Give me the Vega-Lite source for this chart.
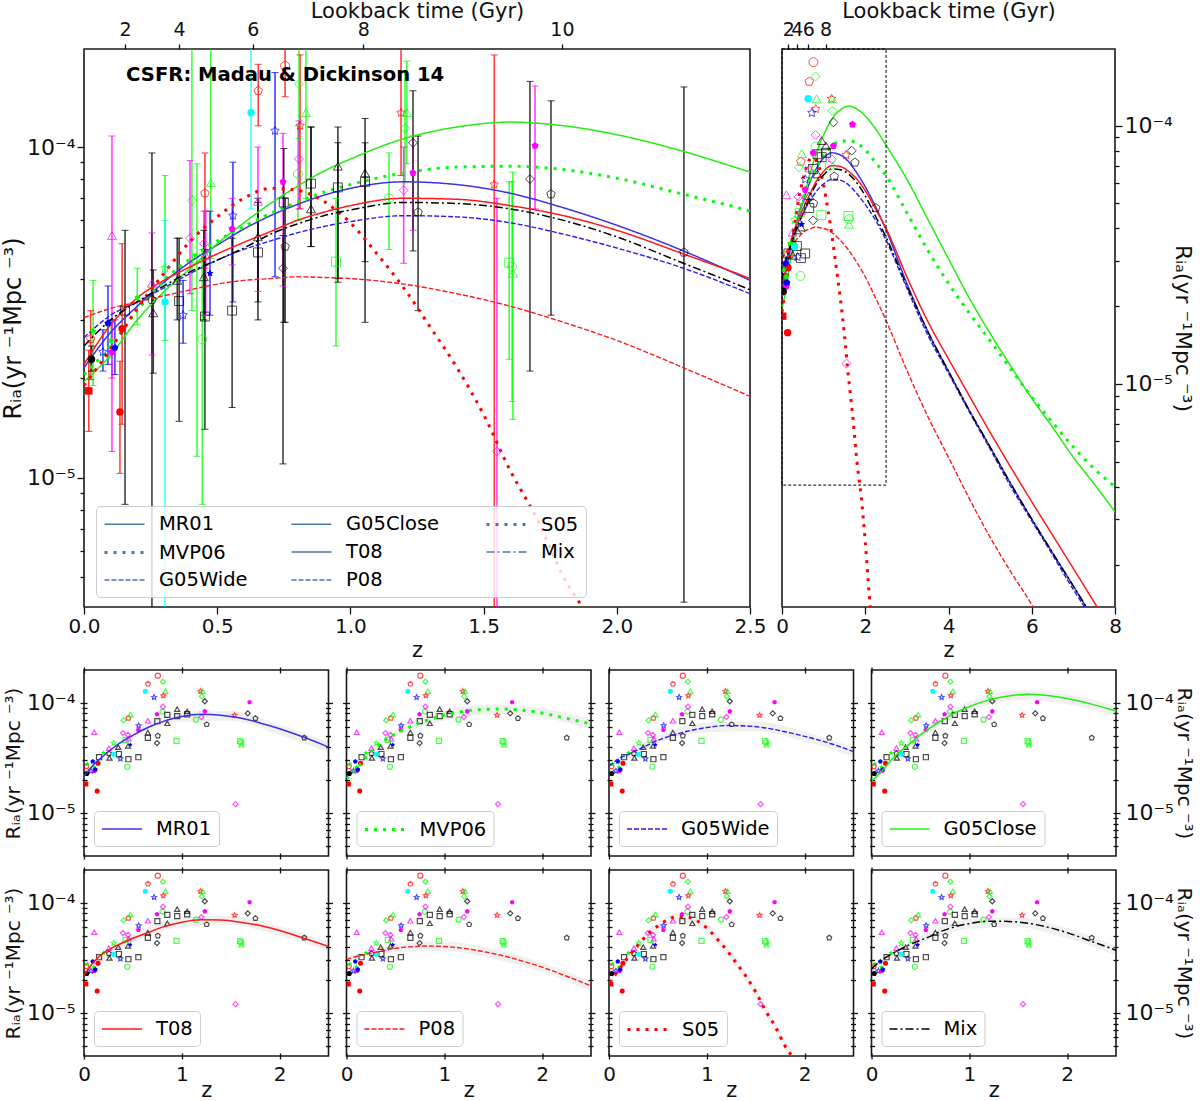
{
"$schema":"https://vega.github.io/schema/vega-lite/v6.json",
"padding":{"left":0,"top":-1,"right":6,"bottom":0},
"config":{"font":"DejaVu Sans","view":{"stroke":"#1a1a1a","strokeWidth":1.6},"point":{"size":26,"strokeWidth":1.2},"axis":{"grid":false,"domain":false,"tickWidth":1.3,"tickColor":"#111","labelFontSize":20,"titleFontSize":21,"titleFontWeight":"normal","labelOverlap":false,"labelFlush":false,"labelBound":false,"labelColor":"#111","titleColor":"#111"},"legend":{"title":null,"orient":"none","padding":7,"labelFontSize":19.5,"labelOffset":23,"symbolType":"M-2,0L2,0","symbolSize":400,"symbolOffset":10,"rowPadding":7,"fillColor":"rgba(255,255,255,0.8)","strokeColor":"#cccccc","cornerRadius":4,"zindex":1,"labelLimit":200}},
"resolve":{"scale":{"color":"independent"},"legend":{"color":"independent"}},
"datasets":{
"obs":[
{"group":"R","marker":"circle","solid":false,"z":0.755,"r":17.6e-5,"lo":14.2e-5,"hi":30e-5},
{"group":"R","marker":"pentagon","solid":false,"z":0.654,"r":14.8e-5,"lo":11.6e-5,"hi":17.8e-5},
{"group":"R","marker":"star","solid":false,"z":0.811,"r":11.6e-5,"lo":6.5e-5,"hi":19e-5},
{"group":"R","marker":"pentagon","solid":false,"z":0.454,"r":7.25e-5,"lo":4.3e-5,"hi":9.6e-5},
{"group":"R","marker":"pentagon","solid":false,"z":0.025,"r":2.63e-5,"lo":1.98e-5,"hi":3.2e-5},
{"group":"R","marker":"star","solid":false,"z":1.19,"r":12.7e-5,"lo":8.2e-5,"hi":30e-5},
{"group":"R","marker":"star","solid":false,"z":1.54,"r":7.7e-5,"lo":0.3e-5,"hi":19e-5},
{"group":"R","marker":"square","solid":true,"z":0.018,"r":1.83e-5,"lo":1.38e-5,"hi":2.43e-5},
{"group":"R","marker":"circle","solid":true,"z":0.135,"r":1.58e-5,"lo":1.03e-5,"hi":2.25e-5},
{"group":"R","marker":"circle","solid":true,"z":0.143,"r":2.82e-5,"lo":1.45e-5,"hi":5.1e-5},
{"group":"G","marker":"diamond","solid":false,"z":0.807,"r":15.5e-5,"lo":10.6e-5,"hi":30e-5},
{"group":"G","marker":"triangle","solid":false,"z":0.833,"r":12.7e-5,"lo":7e-5,"hi":30e-5},
{"group":"G","marker":"circle","solid":false,"z":0.803,"r":8.3e-5,"lo":6e-5,"hi":11.6e-5},
{"group":"G","marker":"triangle","solid":false,"z":0.476,"r":7.8e-5,"lo":4.6e-5,"hi":30e-5},
{"group":"G","marker":"diamond","solid":false,"z":0.405,"r":6.9e-5,"lo":3.2e-5,"hi":30e-5},
{"group":"G","marker":"square","solid":false,"z":0.424,"r":4.6e-5,"lo":1.16e-5,"hi":8.9e-5},
{"group":"G","marker":"circle","solid":false,"z":0.444,"r":2.62e-5,"lo":0.83e-5,"hi":4.9e-5},
{"group":"G","marker":"star","solid":false,"z":0.304,"r":4.3e-5,"lo":2.6e-5,"hi":8.2e-5},
{"group":"G","marker":"star","solid":true,"z":0.2,"r":3.5e-5,"lo":2.9e-5,"hi":4.3e-5},
{"group":"G","marker":"star","solid":true,"z":0.034,"r":2.77e-5,"lo":1.9e-5,"hi":3.95e-5},
{"group":"G","marker":"star","solid":true,"z":0.102,"r":2.6e-5,"lo":2.3e-5,"hi":3e-5},
{"group":"G","marker":"square","solid":false,"z":0.946,"r":4.5e-5,"lo":2.5e-5,"hi":7e-5},
{"group":"G","marker":"circle","solid":false,"z":1.145,"r":7e-5,"lo":4.9e-5,"hi":9.6e-5},
{"group":"G","marker":"triangle","solid":false,"z":1.212,"r":12.7e-5,"lo":8.9e-5,"hi":18.2e-5},
{"group":"G","marker":"diamond","solid":false,"z":1.205,"r":11.4e-5,"lo":7.8e-5,"hi":17e-5},
{"group":"G","marker":"square","solid":false,"z":1.596,"r":4.47e-5,"lo":2.28e-5,"hi":7.85e-5},
{"group":"G","marker":"circle","solid":false,"z":1.607,"r":4.35e-5,"lo":1.7e-5,"hi":7.85e-5},
{"group":"G","marker":"triangle","solid":false,"z":1.61,"r":4.15e-5,"lo":1.5e-5,"hi":8.4e-5},
{"group":"M","marker":"triangle","solid":false,"z":0.105,"r":5.4e-5,"lo":1.2e-5,"hi":10.8e-5},
{"group":"M","marker":"triangle","solid":false,"z":0.255,"r":3.87e-5,"lo":2.35e-5,"hi":5.5e-5},
{"group":"M","marker":"diamond","solid":false,"z":0.398,"r":5.3e-5,"lo":3.6e-5,"hi":9.1e-5},
{"group":"M","marker":"triangle","solid":false,"z":0.457,"r":4.7e-5,"lo":3.1e-5,"hi":6.4e-5},
{"group":"M","marker":"diamond","solid":false,"z":0.45,"r":5.1e-5,"lo":3.1e-5,"hi":6.4e-5},
{"group":"M","marker":"triangle","solid":false,"z":0.653,"r":6.85e-5,"lo":3.66e-5,"hi":10e-5},
{"group":"M","marker":"diamond","solid":false,"z":0.807,"r":9.2e-5,"lo":6.5e-5,"hi":12e-5},
{"group":"M","marker":"diamond","solid":false,"z":1.2,"r":7.4e-5,"lo":4.45e-5,"hi":10e-5},
{"group":"M","marker":"diamond","solid":false,"z":1.55,"r":1.2e-5,"lo":0.3e-5,"hi":7e-5},
{"group":"M","marker":"pentagon","solid":true,"z":0.105,"r":2.4e-5,"lo":2e-5,"hi":3e-5},
{"group":"M","marker":"pentagon","solid":true,"z":0.556,"r":5.65e-5,"lo":4.4e-5,"hi":7e-5},
{"group":"M","marker":"pentagon","solid":true,"z":0.747,"r":7.85e-5,"lo":3.8e-5,"hi":11e-5},
{"group":"M","marker":"pentagon","solid":true,"z":1.235,"r":8.35e-5,"lo":5.6e-5,"hi":10.8e-5},
{"group":"M","marker":"pentagon","solid":true,"z":1.693,"r":10.1e-5,"lo":6.5e-5,"hi":15.3e-5},
{"group":"B","marker":"star","solid":false,"z":0.717,"r":11.2e-5,"lo":4.05e-5,"hi":16.8e-5},
{"group":"B","marker":"star","solid":false,"z":0.559,"r":6.2e-5,"lo":3.4e-5,"hi":9e-5},
{"group":"B","marker":"star","solid":true,"z":0.473,"r":4.15e-5,"lo":3.1e-5,"hi":6.4e-5},
{"group":"B","marker":"star","solid":false,"z":0.372,"r":3.1e-5,"lo":2.55e-5,"hi":3.95e-5},
{"group":"B","marker":"pentagon","solid":true,"z":0.09,"r":2.93e-5,"lo":2.2e-5,"hi":3.8e-5},
{"group":"B","marker":"pentagon","solid":true,"z":0.116,"r":2.47e-5,"lo":2.05e-5,"hi":3e-5},
{"group":"B","marker":"star","solid":false,"z":0.071,"r":2.4e-5,"lo":2.1e-5,"hi":2.8e-5},
{"group":"C","marker":"circle","solid":true,"z":0.627,"r":12.7e-5,"lo":6.5e-5,"hi":30e-5},
{"group":"C","marker":"circle","solid":true,"z":0.304,"r":3.4e-5,"lo":0.3e-5,"hi":6e-5},
{"group":"K","marker":"circle","solid":true,"z":0.028,"r":2.28e-5,"lo":2.1e-5,"hi":2.5e-5},
{"group":"K","marker":"square","solid":false,"z":0.154,"r":3.2e-5,"lo":0.83e-5,"hi":5.6e-5},
{"group":"K","marker":"pentagon","solid":false,"z":0.255,"r":3.45e-5,"lo":0.3e-5,"hi":9.6e-5},
{"group":"K","marker":"triangle","solid":false,"z":0.26,"r":3.15e-5,"lo":2.07e-5,"hi":4.25e-5},
{"group":"K","marker":"square","solid":false,"z":0.357,"r":3.42e-5,"lo":1.48e-5,"hi":5.3e-5},
{"group":"K","marker":"triangle","solid":false,"z":0.35,"r":3.95e-5,"lo":3e-5,"hi":5.3e-5},
{"group":"K","marker":"triangle","solid":false,"z":0.45,"r":4.05e-5,"lo":3e-5,"hi":5.6e-5},
{"group":"K","marker":"square","solid":false,"z":0.454,"r":3.07e-5,"lo":1.4e-5,"hi":4.9e-5},
{"group":"K","marker":"square","solid":false,"z":0.556,"r":3.2e-5,"lo":1.63e-5,"hi":5.3e-5},
{"group":"K","marker":"square","solid":false,"z":0.653,"r":4.8e-5,"lo":3.4e-5,"hi":6.8e-5},
{"group":"K","marker":"triangle","solid":false,"z":0.653,"r":5.35e-5,"lo":3e-5,"hi":7e-5},
{"group":"K","marker":"diamond","solid":false,"z":0.747,"r":4.3e-5,"lo":1.1e-5,"hi":5.4e-5},
{"group":"K","marker":"pentagon","solid":false,"z":0.755,"r":5e-5,"lo":2.95e-5,"hi":7e-5},
{"group":"K","marker":"square","solid":false,"z":0.75,"r":6.8e-5,"lo":2.95e-5,"hi":9.9e-5},
{"group":"K","marker":"triangle","solid":false,"z":0.852,"r":6.5e-5,"lo":5e-5,"hi":11.5e-5},
{"group":"K","marker":"square","solid":false,"z":0.852,"r":7.75e-5,"lo":5e-5,"hi":11.5e-5},
{"group":"K","marker":"triangle","solid":false,"z":0.953,"r":8.75e-5,"lo":4e-5,"hi":11.5e-5},
{"group":"K","marker":"square","solid":false,"z":0.953,"r":7.55e-5,"lo":3.9e-5,"hi":10.3e-5},
{"group":"K","marker":"triangle","solid":false,"z":1.055,"r":8.35e-5,"lo":2.95e-5,"hi":12.2e-5},
{"group":"K","marker":"square","solid":false,"z":1.055,"r":7.85e-5,"lo":4.5e-5,"hi":10.3e-5},
{"group":"K","marker":"diamond","solid":false,"z":1.235,"r":10.3e-5,"lo":4.85e-5,"hi":14.8e-5},
{"group":"K","marker":"pentagon","solid":false,"z":1.254,"r":6.35e-5,"lo":3.2e-5,"hi":10.8e-5},
{"group":"K","marker":"diamond","solid":false,"z":1.674,"r":8e-5,"lo":2.1e-5,"hi":15.8e-5},
{"group":"K","marker":"pentagon","solid":false,"z":1.753,"r":7.2e-5,"lo":3.1e-5,"hi":13.8e-5},
{"group":"K","marker":"pentagon","solid":false,"z":2.252,"r":4.8e-5,"lo":0.42e-5,"hi":15.2e-5}
],
"curves":[
{"m":"MR01","z":0,"r":2.15e-5},{"m":"MR01","z":0.1,"r":2.75e-5},{"m":"MR01","z":0.2,"r":3.3e-5},{"m":"MR01","z":0.3,"r":3.9e-5},{"m":"MR01","z":0.4,"r":4.5e-5},{"m":"MR01","z":0.5,"r":5.05e-5},{"m":"MR01","z":0.6,"r":5.65e-5},{"m":"MR01","z":0.7,"r":6.2e-5},{"m":"MR01","z":0.8,"r":6.7e-5},{"m":"MR01","z":0.9,"r":7.15e-5},{"m":"MR01","z":1,"r":7.5e-5},{"m":"MR01","z":1.2,"r":7.85e-5},{"m":"MR01","z":1.4,"r":7.7e-5},{"m":"MR01","z":1.6,"r":7.25e-5},{"m":"MR01","z":1.8,"r":6.55e-5},{"m":"MR01","z":2,"r":5.8e-5},{"m":"MR01","z":2.25,"r":4.85e-5},{"m":"MR01","z":2.5,"r":3.95e-5},{"m":"MR01","z":3,"r":2.45e-5},{"m":"MR01","z":3.5,"r":1.6e-5},{"m":"MR01","z":4,"r":1.12e-5},{"m":"MR01","z":4.5,"r":0.79e-5},{"m":"MR01","z":5,"r":0.57e-5},{"m":"MR01","z":5.5,"r":0.41e-5},{"m":"MR01","z":6,"r":0.3e-5},{"m":"MR01","z":6.5,"r":0.222e-5},{"m":"MR01","z":7,"r":0.165e-5},{"m":"MR01","z":7.5,"r":0.122e-5},{"m":"MR01","z":8,"r":0.09e-5},
{"m":"MVP06","z":0,"r":2.05e-5},{"m":"MVP06","z":0.1,"r":2.5e-5},{"m":"MVP06","z":0.2,"r":3.2e-5},{"m":"MVP06","z":0.3,"r":3.95e-5},{"m":"MVP06","z":0.4,"r":4.6e-5},{"m":"MVP06","z":0.5,"r":5.2e-5},{"m":"MVP06","z":0.6,"r":5.75e-5},{"m":"MVP06","z":0.7,"r":6.3e-5},{"m":"MVP06","z":0.8,"r":6.8e-5},{"m":"MVP06","z":0.9,"r":7.3e-5},{"m":"MVP06","z":1,"r":7.7e-5},{"m":"MVP06","z":1.2,"r":8.35e-5},{"m":"MVP06","z":1.4,"r":8.7e-5},{"m":"MVP06","z":1.6,"r":8.75e-5},{"m":"MVP06","z":1.8,"r":8.55e-5},{"m":"MVP06","z":2,"r":8.05e-5},{"m":"MVP06","z":2.25,"r":7.2e-5},{"m":"MVP06","z":2.5,"r":6.4e-5},{"m":"MVP06","z":3,"r":4.6e-5},{"m":"MVP06","z":3.5,"r":3.3e-5},{"m":"MVP06","z":4,"r":2.45e-5},{"m":"MVP06","z":4.5,"r":1.88e-5},{"m":"MVP06","z":5,"r":1.47e-5},{"m":"MVP06","z":5.5,"r":1.14e-5},{"m":"MVP06","z":6,"r":0.89e-5},{"m":"MVP06","z":6.5,"r":0.71e-5},{"m":"MVP06","z":7,"r":0.57e-5},{"m":"MVP06","z":7.5,"r":0.47e-5},{"m":"MVP06","z":8,"r":0.4e-5},
{"m":"G05Wide","z":0,"r":2.65e-5},{"m":"G05Wide","z":0.1,"r":3.1e-5},{"m":"G05Wide","z":0.2,"r":3.4e-5},{"m":"G05Wide","z":0.3,"r":3.75e-5},{"m":"G05Wide","z":0.4,"r":4.15e-5},{"m":"G05Wide","z":0.5,"r":4.55e-5},{"m":"G05Wide","z":0.6,"r":4.9e-5},{"m":"G05Wide","z":0.7,"r":5.2e-5},{"m":"G05Wide","z":0.8,"r":5.5e-5},{"m":"G05Wide","z":0.9,"r":5.75e-5},{"m":"G05Wide","z":1,"r":5.95e-5},{"m":"G05Wide","z":1.2,"r":6.2e-5},{"m":"G05Wide","z":1.4,"r":6.15e-5},{"m":"G05Wide","z":1.6,"r":5.9e-5},{"m":"G05Wide","z":1.8,"r":5.45e-5},{"m":"G05Wide","z":2,"r":4.95e-5},{"m":"G05Wide","z":2.25,"r":4.3e-5},{"m":"G05Wide","z":2.5,"r":3.6e-5},{"m":"G05Wide","z":3,"r":2.35e-5},{"m":"G05Wide","z":3.5,"r":1.55e-5},{"m":"G05Wide","z":4,"r":1.1e-5},{"m":"G05Wide","z":4.5,"r":0.78e-5},{"m":"G05Wide","z":5,"r":0.56e-5},{"m":"G05Wide","z":5.5,"r":0.4e-5},{"m":"G05Wide","z":6,"r":0.295e-5},{"m":"G05Wide","z":6.5,"r":0.218e-5},{"m":"G05Wide","z":7,"r":0.16e-5},{"m":"G05Wide","z":7.5,"r":0.12e-5},{"m":"G05Wide","z":8,"r":0.088e-5},
{"m":"G05Close","z":0,"r":1.95e-5},{"m":"G05Close","z":0.1,"r":2.35e-5},{"m":"G05Close","z":0.2,"r":3e-5},{"m":"G05Close","z":0.3,"r":3.65e-5},{"m":"G05Close","z":0.4,"r":4.3e-5},{"m":"G05Close","z":0.5,"r":5.1e-5},{"m":"G05Close","z":0.6,"r":5.9e-5},{"m":"G05Close","z":0.7,"r":6.75e-5},{"m":"G05Close","z":0.8,"r":7.6e-5},{"m":"G05Close","z":0.9,"r":8.45e-5},{"m":"G05Close","z":1,"r":9.2e-5},{"m":"G05Close","z":1.2,"r":10.6e-5},{"m":"G05Close","z":1.4,"r":11.5e-5},{"m":"G05Close","z":1.6,"r":11.9e-5},{"m":"G05Close","z":1.8,"r":11.6e-5},{"m":"G05Close","z":2,"r":10.9e-5},{"m":"G05Close","z":2.25,"r":9.7e-5},{"m":"G05Close","z":2.5,"r":8.4e-5},{"m":"G05Close","z":3,"r":6.2e-5},{"m":"G05Close","z":3.5,"r":4.35e-5},{"m":"G05Close","z":4,"r":3.05e-5},{"m":"G05Close","z":4.5,"r":2.15e-5},{"m":"G05Close","z":5,"r":1.57e-5},{"m":"G05Close","z":5.5,"r":1.17e-5},{"m":"G05Close","z":6,"r":0.88e-5},{"m":"G05Close","z":6.5,"r":0.68e-5},{"m":"G05Close","z":7,"r":0.52e-5},{"m":"G05Close","z":7.5,"r":0.41e-5},{"m":"G05Close","z":8,"r":0.32e-5},
{"m":"T08","z":0,"r":2.2e-5},{"m":"T08","z":0.1,"r":2.9e-5},{"m":"T08","z":0.2,"r":3.5e-5},{"m":"T08","z":0.3,"r":3.95e-5},{"m":"T08","z":0.4,"r":4.35e-5},{"m":"T08","z":0.5,"r":4.75e-5},{"m":"T08","z":0.6,"r":5.15e-5},{"m":"T08","z":0.7,"r":5.55e-5},{"m":"T08","z":0.8,"r":6e-5},{"m":"T08","z":0.9,"r":6.35e-5},{"m":"T08","z":1,"r":6.65e-5},{"m":"T08","z":1.2,"r":7e-5},{"m":"T08","z":1.4,"r":6.95e-5},{"m":"T08","z":1.6,"r":6.65e-5},{"m":"T08","z":1.8,"r":6.2e-5},{"m":"T08","z":2,"r":5.6e-5},{"m":"T08","z":2.25,"r":4.75e-5},{"m":"T08","z":2.5,"r":4e-5},{"m":"T08","z":3,"r":2.6e-5},{"m":"T08","z":3.5,"r":1.75e-5},{"m":"T08","z":4,"r":1.25e-5},{"m":"T08","z":4.5,"r":0.9e-5},{"m":"T08","z":5,"r":0.65e-5},{"m":"T08","z":5.5,"r":0.475e-5},{"m":"T08","z":6,"r":0.35e-5},{"m":"T08","z":6.5,"r":0.26e-5},{"m":"T08","z":7,"r":0.193e-5},{"m":"T08","z":7.5,"r":0.143e-5},{"m":"T08","z":8,"r":0.106e-5},
{"m":"P08","z":0,"r":3.05e-5},{"m":"P08","z":0.1,"r":3.25e-5},{"m":"P08","z":0.2,"r":3.4e-5},{"m":"P08","z":0.3,"r":3.55e-5},{"m":"P08","z":0.4,"r":3.7e-5},{"m":"P08","z":0.5,"r":3.85e-5},{"m":"P08","z":0.6,"r":3.95e-5},{"m":"P08","z":0.7,"r":4e-5},{"m":"P08","z":0.8,"r":4.05e-5},{"m":"P08","z":0.9,"r":4.03e-5},{"m":"P08","z":1,"r":4e-5},{"m":"P08","z":1.2,"r":3.85e-5},{"m":"P08","z":1.4,"r":3.6e-5},{"m":"P08","z":1.6,"r":3.3e-5},{"m":"P08","z":1.8,"r":2.95e-5},{"m":"P08","z":2,"r":2.6e-5},{"m":"P08","z":2.25,"r":2.15e-5},{"m":"P08","z":2.5,"r":1.76e-5},{"m":"P08","z":3,"r":1.13e-5},{"m":"P08","z":3.5,"r":0.75e-5},{"m":"P08","z":4,"r":0.52e-5},{"m":"P08","z":4.5,"r":0.36e-5},{"m":"P08","z":5,"r":0.255e-5},{"m":"P08","z":5.5,"r":0.187e-5},{"m":"P08","z":6,"r":0.14e-5},{"m":"P08","z":6.5,"r":0.1e-5},{"m":"P08","z":7,"r":0.075e-5},{"m":"P08","z":7.5,"r":0.056e-5},{"m":"P08","z":8,"r":0.042e-5},
{"m":"S05","z":0,"r":1.9e-5},{"m":"S05","z":0.1,"r":2.45e-5},{"m":"S05","z":0.2,"r":3.25e-5},{"m":"S05","z":0.3,"r":4.15e-5},{"m":"S05","z":0.4,"r":5.2e-5},{"m":"S05","z":0.5,"r":6.15e-5},{"m":"S05","z":0.6,"r":7e-5},{"m":"S05","z":0.7,"r":7.5e-5},{"m":"S05","z":0.8,"r":7.4e-5},{"m":"S05","z":0.9,"r":6.85e-5},{"m":"S05","z":1,"r":5.9e-5},{"m":"S05","z":1.1,"r":4.75e-5},{"m":"S05","z":1.2,"r":3.75e-5},{"m":"S05","z":1.3,"r":2.85e-5},{"m":"S05","z":1.4,"r":2.15e-5},{"m":"S05","z":1.5,"r":1.55e-5},{"m":"S05","z":1.6,"r":1.05e-5},{"m":"S05","z":1.7,"r":0.75e-5},{"m":"S05","z":1.8,"r":0.5e-5},{"m":"S05","z":1.9,"r":0.37e-5},{"m":"S05","z":2,"r":0.245e-5},{"m":"S05","z":2.1,"r":0.15e-5},{"m":"S05","z":2.2,"r":0.1e-5},
{"m":"Mix","z":0,"r":2.5e-5},{"m":"Mix","z":0.1,"r":3e-5},{"m":"Mix","z":0.2,"r":3.4e-5},{"m":"Mix","z":0.3,"r":3.8e-5},{"m":"Mix","z":0.4,"r":4.2e-5},{"m":"Mix","z":0.5,"r":4.55e-5},{"m":"Mix","z":0.6,"r":4.95e-5},{"m":"Mix","z":0.7,"r":5.45e-5},{"m":"Mix","z":0.8,"r":5.85e-5},{"m":"Mix","z":0.9,"r":6.2e-5},{"m":"Mix","z":1,"r":6.45e-5},{"m":"Mix","z":1.2,"r":6.8e-5},{"m":"Mix","z":1.4,"r":6.75e-5},{"m":"Mix","z":1.6,"r":6.5e-5},{"m":"Mix","z":1.8,"r":6e-5},{"m":"Mix","z":2,"r":5.35e-5},{"m":"Mix","z":2.25,"r":4.45e-5},{"m":"Mix","z":2.5,"r":3.7e-5},{"m":"Mix","z":3,"r":2.4e-5},{"m":"Mix","z":3.5,"r":1.6e-5},{"m":"Mix","z":4,"r":1.12e-5},{"m":"Mix","z":4.5,"r":0.79e-5},{"m":"Mix","z":5,"r":0.57e-5},{"m":"Mix","z":5.5,"r":0.41e-5},{"m":"Mix","z":6,"r":0.3e-5},{"m":"Mix","z":6.5,"r":0.222e-5},{"m":"Mix","z":7,"r":0.165e-5},{"m":"Mix","z":7.5,"r":0.122e-5},{"m":"Mix","z":8,"r":0.09e-5}
],
"bands":[
{"m":"MR01","z":0,"lo":2.05e-5,"hi":2.25e-5},{"m":"MR01","z":0.5,"lo":4.7e-5,"hi":5.5e-5},{"m":"MR01","z":1,"lo":6.7e-5,"hi":8.2e-5},{"m":"MR01","z":1.5,"lo":6.85e-5,"hi":8.4e-5},{"m":"MR01","z":2,"lo":5.1e-5,"hi":6.3e-5},{"m":"MR01","z":2.5,"lo":3.55e-5,"hi":4.35e-5},
{"m":"MVP06","z":0,"lo":1.95e-5,"hi":2.15e-5},{"m":"MVP06","z":0.5,"lo":4.8e-5,"hi":5.65e-5},{"m":"MVP06","z":1,"lo":6.85e-5,"hi":8.4e-5},{"m":"MVP06","z":1.5,"lo":7.85e-5,"hi":9.6e-5},{"m":"MVP06","z":2,"lo":7.3e-5,"hi":8.9e-5},{"m":"MVP06","z":2.5,"lo":5.75e-5,"hi":7.05e-5},
{"m":"G05Wide","z":0,"lo":2.5e-5,"hi":2.8e-5},{"m":"G05Wide","z":0.5,"lo":4.25e-5,"hi":5e-5},{"m":"G05Wide","z":1,"lo":5.4e-5,"hi":6.6e-5},{"m":"G05Wide","z":1.5,"lo":5.5e-5,"hi":6.7e-5},{"m":"G05Wide","z":2,"lo":4.45e-5,"hi":5.45e-5},{"m":"G05Wide","z":2.5,"lo":3.25e-5,"hi":3.95e-5},
{"m":"G05Close","z":0,"lo":1.85e-5,"hi":2.05e-5},{"m":"G05Close","z":0.5,"lo":4.7e-5,"hi":5.55e-5},{"m":"G05Close","z":1,"lo":8.35e-5,"hi":10.2e-5},{"m":"G05Close","z":1.5,"lo":10.6e-5,"hi":13e-5},{"m":"G05Close","z":2,"lo":9.7e-5,"hi":11.9e-5},{"m":"G05Close","z":2.5,"lo":7.55e-5,"hi":9.25e-5},
{"m":"T08","z":0,"lo":2.1e-5,"hi":2.3e-5},{"m":"T08","z":0.5,"lo":4.35e-5,"hi":5.15e-5},{"m":"T08","z":1,"lo":6e-5,"hi":7.3e-5},{"m":"T08","z":1.5,"lo":6.25e-5,"hi":7.65e-5},{"m":"T08","z":2,"lo":5e-5,"hi":6.1e-5},{"m":"T08","z":2.5,"lo":3.6e-5,"hi":4.4e-5},
{"m":"P08","z":0,"lo":2.9e-5,"hi":3.2e-5},{"m":"P08","z":0.5,"lo":3.55e-5,"hi":4.2e-5},{"m":"P08","z":1,"lo":3.65e-5,"hi":4.45e-5},{"m":"P08","z":1.5,"lo":3.1e-5,"hi":3.8e-5},{"m":"P08","z":2,"lo":2.35e-5,"hi":2.85e-5},{"m":"P08","z":2.5,"lo":1.58e-5,"hi":1.94e-5},
{"m":"S05","z":0,"lo":1.8e-5,"hi":2e-5},{"m":"S05","z":0.25,"lo":3.4e-5,"hi":4e-5},{"m":"S05","z":0.5,"lo":5.65e-5,"hi":6.65e-5},{"m":"S05","z":0.75,"lo":6.75e-5,"hi":8.25e-5},{"m":"S05","z":1,"lo":5.3e-5,"hi":6.5e-5},{"m":"S05","z":1.25,"lo":2.95e-5,"hi":3.65e-5},{"m":"S05","z":1.5,"lo":1.4e-5,"hi":1.7e-5},{"m":"S05","z":1.75,"lo":0.55e-5,"hi":0.68e-5},{"m":"S05","z":1.9,"lo":0.33e-5,"hi":0.41e-5},{"m":"S05","z":2,"lo":0.22e-5,"hi":0.27e-5},
{"m":"Mix","z":0,"lo":2.4e-5,"hi":2.6e-5},{"m":"Mix","z":0.5,"lo":4.2e-5,"hi":4.9e-5},{"m":"Mix","z":1,"lo":5.8e-5,"hi":7.1e-5},{"m":"Mix","z":1.5,"lo":6e-5,"hi":7.3e-5},{"m":"Mix","z":2,"lo":4.75e-5,"hi":5.85e-5},{"m":"Mix","z":2.5,"lo":3.35e-5,"hi":4.05e-5}
]
},
"spacing":4,
"vconcat":[
{"spacing":32,"bounds":"flush","resolve":{"scale":{"color":"independent"},"legend":{"color":"independent"}},"hconcat":[
{"width":666,"height":558,"resolve":{"axis":{"x":"independent","y":"independent"}},"layer":[
{"data":{"name":"curves"},"transform":[{"filter":"datum.m=='none'"}],"mark":{"type":"line","clip":true},"encoding":{
"x":{"field":"z","type":"quantitative","axis":null,"scale":{"domain":[0,2.5],"nice":false,"zero":false}},
"y":{"field":"r","type":"quantitative","axis":null,"scale":{"type":"log","domain":[4.06e-6,1.98e-4],"nice":false}},
"strokeDash":{"field":"m","type":"nominal","legend":{"legendX":12,"legendY":457,"columns":3,"columnPadding":40,"encoding":{"symbols":{"stroke":{"signal":"datum.value=='MR01'?'#3c32e6':datum.value=='MVP06'?'#00ff00':datum.value=='G05Wide'?'#2a20e8':datum.value=='G05Close'?'#22ee11':datum.value=='Mix'?'#000000':'#ff1a1a'"},"strokeWidth":{"signal":"datum.value=='MVP06'||datum.value=='S05'?3:1.5"}}}},"scale":{"domain":["MR01","MVP06","G05Wide","G05Close","T08","P08","S05","Mix"],"range":[[1,0],[3,6],[5,2],[1,0],[1,0],[5,2],[3,6],[8,3,2,3]]}}}},
{"data":{"name":"obs"},"mark":{"type":"rule","clip":true,"strokeWidth":1.6,"opacity":0.75},"encoding":{
"x":{"field":"z","type":"quantitative","scale":{"domain":[0,2.5],"nice":false,"zero":false},"axis":{"orient":"bottom","values":[0,0.5,1,1.5,2,2.5],"format":".1f","tickSize":7,"title":"z","titlePadding":3}},
"y":{"field":"lo","type":"quantitative","scale":{"type":"log","domain":[4.06e-6,1.98e-4],"nice":false},"axis":{"orient":"left","values":[1e-4,9e-5,8e-5,7e-5,6e-5,5e-5,4e-5,3e-5,2e-5,1e-5,9e-6,8e-6,7e-6,6e-6,5e-6],"labelExpr":"datum.value==1e-4?'10⁻⁴':datum.value==1e-5?'10⁻⁵':''","labelFontSize":22,"tickSize":{"condition":{"test":"datum.value==1e-4||datum.value==1e-5","value":7},"value":4},"title":"Rᵢₐ(yr ⁻¹Mpc ⁻³)","titleFontSize":24,"titlePadding":1}},
"y2":{"field":"hi"},
"stroke":{"field":"group","type":"nominal","legend":null,"scale":{"domain":["K","R","G","M","B","C"],"range":["#000000","#ff0000","#00ff00","#ff00ff","#0000ff","#00ffff"]}}}},
{"data":{"name":"obs"},"mark":{"type":"tick","clip":true,"orient":"horizontal","size":7,"thickness":1,"opacity":0.75},"encoding":{
"x":{"field":"z","type":"quantitative","axis":null,"scale":{"domain":[0,2.5],"nice":false,"zero":false}},
"y":{"field":"lo","type":"quantitative","axis":null,"scale":{"type":"log","domain":[4.06e-6,1.98e-4],"nice":false}},
"fill":{"field":"group","type":"nominal","legend":null,"scale":{"domain":["K","R","G","M","B","C"],"range":["#000000","#ff0000","#00ff00","#ff00ff","#0000ff","#00ffff"]}}}},
{"data":{"name":"obs"},"mark":{"type":"tick","clip":true,"orient":"horizontal","size":7,"thickness":1,"opacity":0.75},"encoding":{
"x":{"field":"z","type":"quantitative","axis":null,"scale":{"domain":[0,2.5],"nice":false,"zero":false}},
"y":{"field":"hi","type":"quantitative","axis":null,"scale":{"type":"log","domain":[4.06e-6,1.98e-4],"nice":false}},
"fill":{"field":"group","type":"nominal","legend":null}}},
{"data":{"name":"curves"},"mark":{"type":"line","clip":true,"interpolate":"monotone"},"encoding":{
"x":{"field":"z","type":"quantitative","scale":{"domain":[0,2.5],"nice":false,"zero":false},"axis":{"orient":"top","values":[0.154,0.357,0.634,1.048,1.794],"labelExpr":"datum.value<0.2?'2':datum.value<0.5?'4':datum.value<0.8?'6':datum.value<1.3?'8':'10'","labelFontSize":19,"labelPadding":5,"tickSize":5,"title":"Lookback time (Gyr)","titlePadding":-1}},
"y":{"field":"r","type":"quantitative","axis":null,"scale":{"type":"log","domain":[4.06e-6,1.98e-4],"nice":false}},
"color":{"field":"m","type":"nominal","legend":null,"scale":{"domain":["MR01","MVP06","G05Wide","G05Close","T08","P08","S05","Mix"],"range":["#3c32e6","#00ff00","#2a20e8","#22ee11","#ff1a1a","#ff1a1a","#ff0000","#000000"]}},
"strokeDash":{"field":"m","type":"nominal","legend":null,"scale":{"domain":["MR01","MVP06","G05Wide","G05Close","T08","P08","S05","Mix"],"range":[[1,0],[3,6],[5,2],[1,0],[1,0],[5,2],[3,6],[8,3,2,3]]}},
"strokeWidth":{"field":"m","type":"nominal","legend":null,"scale":{"type":"ordinal","domain":["MR01","MVP06","G05Wide","G05Close","T08","P08","S05","Mix"],"range":[1.5,3,1.4,1.5,1.5,1.4,3,1.5]}}}},
{"data":{"name":"obs"},"transform":[{"filter":"!datum.solid"}],"mark":{"type":"point","clip":true,"filled":false,"size":80,"strokeWidth":1},"encoding":{
"x":{"field":"z","type":"quantitative","axis":null,"scale":{"domain":[0,2.5],"nice":false,"zero":false}},
"y":{"field":"r","type":"quantitative","axis":null,"scale":{"type":"log","domain":[4.06e-6,1.98e-4],"nice":false}},
"shape":{"field":"marker","type":"nominal","legend":null,"scale":{"domain":["circle","pentagon","diamond","square","triangle","star"],"range":["circle","M0,-1L0.95,-0.31L0.59,0.81L-0.59,0.81L-0.95,-0.31Z","diamond","square","triangle-up","M0,-1L0.29,-0.4L0.95,-0.31L0.47,0.15L0.59,0.81L0,0.5L-0.59,0.81L-0.47,0.15L-0.95,-0.31L-0.29,-0.4Z"]}},
"stroke":{"field":"group","type":"nominal","legend":null}}},
{"data":{"name":"obs"},"transform":[{"filter":"datum.solid"}],"mark":{"type":"point","clip":true,"filled":true,"size":55,"opacity":1},"encoding":{
"x":{"field":"z","type":"quantitative","axis":null,"scale":{"domain":[0,2.5],"nice":false,"zero":false}},
"y":{"field":"r","type":"quantitative","axis":null,"scale":{"type":"log","domain":[4.06e-6,1.98e-4],"nice":false}},
"shape":{"field":"marker","type":"nominal","legend":null},
"fill":{"field":"group","type":"nominal","legend":null}}},
{"data":{"values":[{"z":0.158,"r":1.65e-4,"note":"CSFR: Madau & Dickinson 14"}]},"mark":{"type":"text","align":"left","baseline":"middle","fontWeight":"bold","fontSize":19.6,"color":"#000"},"encoding":{
"x":{"field":"z","type":"quantitative","axis":null,"scale":{"domain":[0,2.5],"nice":false,"zero":false}},
"y":{"field":"r","type":"quantitative","axis":null,"scale":{"type":"log","domain":[4.06e-6,1.98e-4],"nice":false}},
"text":{"field":"note"}}}
]},
{"width":333,"height":558,"resolve":{"axis":{"x":"independent","y":"independent"}},"layer":[
{"data":{"name":"curves"},"mark":{"type":"line","clip":true,"interpolate":"monotone"},"encoding":{
"x":{"field":"z","type":"quantitative","scale":{"domain":[0,8],"nice":false,"zero":false},"axis":{"orient":"bottom","values":[0,2,4,6,8],"tickSize":7,"title":"z","titlePadding":3}},
"y":{"field":"r","type":"quantitative","scale":{"type":"log","domain":[1.37e-6,1.98e-4],"nice":false},"axis":{"orient":"right","values":[1e-4,9e-5,8e-5,7e-5,6e-5,5e-5,4e-5,3e-5,2e-5,1e-5,9e-6,8e-6,7e-6,6e-6,5e-6,4e-6,3e-6,2e-6],"labelExpr":"datum.value==1e-4?'10⁻⁴':datum.value==1e-5?'10⁻⁵':''","labelFontSize":22,"tickSize":{"condition":{"test":"datum.value==1e-4||datum.value==1e-5","value":7},"value":4},"title":"Rᵢₐ(yr ⁻¹Mpc ⁻³)","titleFontSize":22,"titlePadding":-2}},
"color":{"field":"m","type":"nominal","legend":null,"scale":{"domain":["MR01","MVP06","G05Wide","G05Close","T08","P08","S05","Mix"],"range":["#3c32e6","#00ff00","#2a20e8","#22ee11","#ff1a1a","#ff1a1a","#ff0000","#000000"]}},
"strokeDash":{"field":"m","type":"nominal","legend":null,"scale":{"domain":["MR01","MVP06","G05Wide","G05Close","T08","P08","S05","Mix"],"range":[[1,0],[3,6],[5,2],[1,0],[1,0],[5,2],[3,6],[8,3,2,3]]}},
"strokeWidth":{"field":"m","type":"nominal","legend":null,"scale":{"type":"ordinal","domain":["MR01","MVP06","G05Wide","G05Close","T08","P08","S05","Mix"],"range":[1.5,3,1.4,1.5,1.5,1.4,3,1.5]}}}},
{"data":{"name":"obs"},"transform":[{"filter":"!datum.solid"}],"mark":{"type":"point","clip":true,"filled":false,"size":80,"strokeWidth":1},"encoding":{
"x":{"field":"z","type":"quantitative","scale":{"domain":[0,8],"nice":false,"zero":false},"axis":{"orient":"top","values":[0.154,0.357,0.634,1.048],"labelExpr":"datum.value<0.2?'2':datum.value<0.5?'4':datum.value<0.8?'6':'8'","labelFontSize":19,"labelPadding":5,"tickSize":5,"title":"Lookback time (Gyr)","titlePadding":-1}},
"y":{"field":"r","type":"quantitative","axis":null,"scale":{"type":"log","domain":[1.37e-6,1.98e-4],"nice":false}},
"shape":{"field":"marker","type":"nominal","legend":null},
"stroke":{"field":"group","type":"nominal","legend":null}}},
{"data":{"name":"obs"},"transform":[{"filter":"datum.solid"}],"mark":{"type":"point","clip":true,"filled":true,"size":55,"opacity":1},"encoding":{
"x":{"field":"z","type":"quantitative","axis":null,"scale":{"domain":[0,8],"nice":false,"zero":false}},
"y":{"field":"r","type":"quantitative","axis":null,"scale":{"type":"log","domain":[1.37e-6,1.98e-4],"nice":false}},
"shape":{"field":"marker","type":"nominal","legend":null},
"fill":{"field":"group","type":"nominal","legend":null}}},
{"data":{"values":[{"z0":0,"z1":2.5,"r0":4.06e-6,"r1":1.98e-4}]},"mark":{"type":"rect","fill":null,"stroke":"#000","strokeDash":[3,2],"strokeWidth":1},"encoding":{
"x":{"field":"z0","type":"quantitative","axis":null,"scale":{"domain":[0,8],"nice":false,"zero":false}},
"x2":{"field":"z1"},
"y":{"field":"r0","type":"quantitative","axis":null,"scale":{"type":"log","domain":[1.37e-6,1.98e-4],"nice":false}},
"y2":{"field":"r1"}}}
]}
]},
{"spacing":17.5,"bounds":"flush","resolve":{"scale":{"color":"independent"},"legend":{"color":"independent"}},"hconcat":[
{"width":244.5,"height":186,"resolve":{"axis":{"x":"independent","y":"independent"}},"layer":[
{"data":{"name":"bands"},"transform":[{"filter":"datum.m=='MR01'"}],"mark":{"type":"area","clip":true,"interpolate":"monotone","color":"#888888","opacity":0.13},"encoding":{"x":{"field":"z","type":"quantitative","scale":{"domain":[0,2.5],"nice":false,"zero":false},"axis":{"orient":"bottom","values":[0,1,2],"labels":false,"title":null,"offset":-3,"tickSize":6}},"y":{"field":"lo","type":"quantitative","scale":{"type":"log","domain":[4.06e-6,1.98e-4],"nice":false},"axis":{"orient":"left","values":[1e-4,9e-5,8e-5,7e-5,6e-5,5e-5,4e-5,3e-5,2e-5,1e-5,9e-6,8e-6,7e-6,6e-6,5e-6],"labelExpr":"datum.value==1e-4?'10⁻⁴':datum.value==1e-5?'10⁻⁵':''","labelFontSize":22,"labelPadding":5,"offset":-3,"tickSize":{"condition":{"test":"datum.value==1e-4||datum.value==1e-5","value":7},"value":5},"title":"Rᵢₐ(yr ⁻¹Mpc ⁻³)","titleFontSize":20,"titlePadding":3}},"y2":{"field":"hi"}}},
{"data":{"name":"obs"},"transform":[{"filter":"!datum.solid"}],"mark":{"type":"point","clip":true,"filled":false},"encoding":{"x":{"field":"z","type":"quantitative","axis":null,"scale":{"domain":[0,2.5],"nice":false,"zero":false}},"y":{"field":"r","type":"quantitative","axis":null,"scale":{"type":"log","domain":[4.06e-6,1.98e-4],"nice":false}},"shape":{"field":"marker","type":"nominal","legend":null},"stroke":{"field":"group","type":"nominal","legend":null}}},
{"data":{"name":"obs"},"transform":[{"filter":"datum.solid"}],"mark":{"type":"point","clip":true,"filled":true,"opacity":1},"encoding":{"x":{"field":"z","type":"quantitative","axis":null,"scale":{"domain":[0,2.5],"nice":false,"zero":false}},"y":{"field":"r","type":"quantitative","axis":null,"scale":{"type":"log","domain":[4.06e-6,1.98e-4],"nice":false}},"shape":{"field":"marker","type":"nominal","legend":null},"fill":{"field":"group","type":"nominal","legend":null}}},
{"data":{"name":"curves"},"transform":[{"filter":"datum.m=='MR01'"}],"mark":{"type":"line","clip":true,"interpolate":"monotone","strokeWidth":1.5},"encoding":{"x":{"field":"z","type":"quantitative","scale":{"domain":[0,2.5],"nice":false,"zero":false},"axis":{"orient":"top","values":[0,1,2],"labels":false,"title":null,"offset":-3,"tickSize":6}},"y":{"field":"r","type":"quantitative","scale":{"type":"log","domain":[4.06e-6,1.98e-4],"nice":false},"axis":{"orient":"right","values":[1e-4,9e-5,8e-5,7e-5,6e-5,5e-5,4e-5,3e-5,2e-5,1e-5,9e-6,8e-6,7e-6,6e-6,5e-6],"labels":false,"title":null,"offset":-3,"tickSize":{"condition":{"test":"datum.value==1e-4||datum.value==1e-5","value":7},"value":5}}},"color":{"field":"m","type":"nominal","scale":{"domain":["MR01"],"range":["#3c32e6"]},"legend":{"legendX":10,"legendY":141,"encoding":{"symbols":{"strokeWidth":{"value":1.5}}}}}}}
]},
{"width":244.5,"height":186,"resolve":{"axis":{"x":"independent","y":"independent"}},"layer":[
{"data":{"name":"bands"},"transform":[{"filter":"datum.m=='MVP06'"}],"mark":{"type":"area","clip":true,"interpolate":"monotone","color":"#888888","opacity":0.13},"encoding":{"x":{"field":"z","type":"quantitative","scale":{"domain":[0,2.5],"nice":false,"zero":false},"axis":{"orient":"bottom","values":[0,1,2],"labels":false,"title":null,"offset":-3,"tickSize":6}},"y":{"field":"lo","type":"quantitative","scale":{"type":"log","domain":[4.06e-6,1.98e-4],"nice":false},"axis":{"orient":"left","values":[1e-4,9e-5,8e-5,7e-5,6e-5,5e-5,4e-5,3e-5,2e-5,1e-5,9e-6,8e-6,7e-6,6e-6,5e-6],"labels":false,"title":null,"offset":-3,"tickSize":{"condition":{"test":"datum.value==1e-4||datum.value==1e-5","value":7},"value":5}}},"y2":{"field":"hi"}}},
{"data":{"name":"obs"},"transform":[{"filter":"!datum.solid"}],"mark":{"type":"point","clip":true,"filled":false},"encoding":{"x":{"field":"z","type":"quantitative","axis":null,"scale":{"domain":[0,2.5],"nice":false,"zero":false}},"y":{"field":"r","type":"quantitative","axis":null,"scale":{"type":"log","domain":[4.06e-6,1.98e-4],"nice":false}},"shape":{"field":"marker","type":"nominal","legend":null},"stroke":{"field":"group","type":"nominal","legend":null}}},
{"data":{"name":"obs"},"transform":[{"filter":"datum.solid"}],"mark":{"type":"point","clip":true,"filled":true,"opacity":1},"encoding":{"x":{"field":"z","type":"quantitative","axis":null,"scale":{"domain":[0,2.5],"nice":false,"zero":false}},"y":{"field":"r","type":"quantitative","axis":null,"scale":{"type":"log","domain":[4.06e-6,1.98e-4],"nice":false}},"shape":{"field":"marker","type":"nominal","legend":null},"fill":{"field":"group","type":"nominal","legend":null}}},
{"data":{"name":"curves"},"transform":[{"filter":"datum.m=='MVP06'"}],"mark":{"type":"line","clip":true,"interpolate":"monotone","strokeWidth":3,"strokeDash":[3,6]},"encoding":{"x":{"field":"z","type":"quantitative","scale":{"domain":[0,2.5],"nice":false,"zero":false},"axis":{"orient":"top","values":[0,1,2],"labels":false,"title":null,"offset":-3,"tickSize":6}},"y":{"field":"r","type":"quantitative","scale":{"type":"log","domain":[4.06e-6,1.98e-4],"nice":false},"axis":{"orient":"right","values":[1e-4,9e-5,8e-5,7e-5,6e-5,5e-5,4e-5,3e-5,2e-5,1e-5,9e-6,8e-6,7e-6,6e-6,5e-6],"labels":false,"title":null,"offset":-3,"tickSize":{"condition":{"test":"datum.value==1e-4||datum.value==1e-5","value":7},"value":5}}},"color":{"field":"m","type":"nominal","scale":{"domain":["MVP06"],"range":["#00ff00"]},"legend":{"legendX":10,"legendY":141,"encoding":{"symbols":{"strokeWidth":{"value":3},"strokeDash":{"value":[3,6]}}}}}}}
]},
{"width":244.5,"height":186,"resolve":{"axis":{"x":"independent","y":"independent"}},"layer":[
{"data":{"name":"bands"},"transform":[{"filter":"datum.m=='G05Wide'"}],"mark":{"type":"area","clip":true,"interpolate":"monotone","color":"#888888","opacity":0.13},"encoding":{"x":{"field":"z","type":"quantitative","scale":{"domain":[0,2.5],"nice":false,"zero":false},"axis":{"orient":"bottom","values":[0,1,2],"labels":false,"title":null,"offset":-3,"tickSize":6}},"y":{"field":"lo","type":"quantitative","scale":{"type":"log","domain":[4.06e-6,1.98e-4],"nice":false},"axis":{"orient":"left","values":[1e-4,9e-5,8e-5,7e-5,6e-5,5e-5,4e-5,3e-5,2e-5,1e-5,9e-6,8e-6,7e-6,6e-6,5e-6],"labels":false,"title":null,"offset":-3,"tickSize":{"condition":{"test":"datum.value==1e-4||datum.value==1e-5","value":7},"value":5}}},"y2":{"field":"hi"}}},
{"data":{"name":"obs"},"transform":[{"filter":"!datum.solid"}],"mark":{"type":"point","clip":true,"filled":false},"encoding":{"x":{"field":"z","type":"quantitative","axis":null,"scale":{"domain":[0,2.5],"nice":false,"zero":false}},"y":{"field":"r","type":"quantitative","axis":null,"scale":{"type":"log","domain":[4.06e-6,1.98e-4],"nice":false}},"shape":{"field":"marker","type":"nominal","legend":null},"stroke":{"field":"group","type":"nominal","legend":null}}},
{"data":{"name":"obs"},"transform":[{"filter":"datum.solid"}],"mark":{"type":"point","clip":true,"filled":true,"opacity":1},"encoding":{"x":{"field":"z","type":"quantitative","axis":null,"scale":{"domain":[0,2.5],"nice":false,"zero":false}},"y":{"field":"r","type":"quantitative","axis":null,"scale":{"type":"log","domain":[4.06e-6,1.98e-4],"nice":false}},"shape":{"field":"marker","type":"nominal","legend":null},"fill":{"field":"group","type":"nominal","legend":null}}},
{"data":{"name":"curves"},"transform":[{"filter":"datum.m=='G05Wide'"}],"mark":{"type":"line","clip":true,"interpolate":"monotone","strokeWidth":1.4,"strokeDash":[5,2]},"encoding":{"x":{"field":"z","type":"quantitative","scale":{"domain":[0,2.5],"nice":false,"zero":false},"axis":{"orient":"top","values":[0,1,2],"labels":false,"title":null,"offset":-3,"tickSize":6}},"y":{"field":"r","type":"quantitative","scale":{"type":"log","domain":[4.06e-6,1.98e-4],"nice":false},"axis":{"orient":"right","values":[1e-4,9e-5,8e-5,7e-5,6e-5,5e-5,4e-5,3e-5,2e-5,1e-5,9e-6,8e-6,7e-6,6e-6,5e-6],"labels":false,"title":null,"offset":-3,"tickSize":{"condition":{"test":"datum.value==1e-4||datum.value==1e-5","value":7},"value":5}}},"color":{"field":"m","type":"nominal","scale":{"domain":["G05Wide"],"range":["#2a20e8"]},"legend":{"legendX":10,"legendY":141,"encoding":{"symbols":{"strokeWidth":{"value":1.4},"strokeDash":{"value":[5,2]}}}}}}}
]},
{"width":244.5,"height":186,"resolve":{"axis":{"x":"independent","y":"independent"}},"layer":[
{"data":{"name":"bands"},"transform":[{"filter":"datum.m=='G05Close'"}],"mark":{"type":"area","clip":true,"interpolate":"monotone","color":"#888888","opacity":0.13},"encoding":{"x":{"field":"z","type":"quantitative","scale":{"domain":[0,2.5],"nice":false,"zero":false},"axis":{"orient":"bottom","values":[0,1,2],"labels":false,"title":null,"offset":-3,"tickSize":6}},"y":{"field":"lo","type":"quantitative","scale":{"type":"log","domain":[4.06e-6,1.98e-4],"nice":false},"axis":{"orient":"left","values":[1e-4,9e-5,8e-5,7e-5,6e-5,5e-5,4e-5,3e-5,2e-5,1e-5,9e-6,8e-6,7e-6,6e-6,5e-6],"labels":false,"title":null,"offset":-3,"tickSize":{"condition":{"test":"datum.value==1e-4||datum.value==1e-5","value":7},"value":5}}},"y2":{"field":"hi"}}},
{"data":{"name":"obs"},"transform":[{"filter":"!datum.solid"}],"mark":{"type":"point","clip":true,"filled":false},"encoding":{"x":{"field":"z","type":"quantitative","axis":null,"scale":{"domain":[0,2.5],"nice":false,"zero":false}},"y":{"field":"r","type":"quantitative","axis":null,"scale":{"type":"log","domain":[4.06e-6,1.98e-4],"nice":false}},"shape":{"field":"marker","type":"nominal","legend":null},"stroke":{"field":"group","type":"nominal","legend":null}}},
{"data":{"name":"obs"},"transform":[{"filter":"datum.solid"}],"mark":{"type":"point","clip":true,"filled":true,"opacity":1},"encoding":{"x":{"field":"z","type":"quantitative","axis":null,"scale":{"domain":[0,2.5],"nice":false,"zero":false}},"y":{"field":"r","type":"quantitative","axis":null,"scale":{"type":"log","domain":[4.06e-6,1.98e-4],"nice":false}},"shape":{"field":"marker","type":"nominal","legend":null},"fill":{"field":"group","type":"nominal","legend":null}}},
{"data":{"name":"curves"},"transform":[{"filter":"datum.m=='G05Close'"}],"mark":{"type":"line","clip":true,"interpolate":"monotone","strokeWidth":1.5},"encoding":{"x":{"field":"z","type":"quantitative","scale":{"domain":[0,2.5],"nice":false,"zero":false},"axis":{"orient":"top","values":[0,1,2],"labels":false,"title":null,"offset":-3,"tickSize":6}},"y":{"field":"r","type":"quantitative","scale":{"type":"log","domain":[4.06e-6,1.98e-4],"nice":false},"axis":{"orient":"right","values":[1e-4,9e-5,8e-5,7e-5,6e-5,5e-5,4e-5,3e-5,2e-5,1e-5,9e-6,8e-6,7e-6,6e-6,5e-6],"labelExpr":"datum.value==1e-4?'10⁻⁴':datum.value==1e-5?'10⁻⁵':''","labelFontSize":22,"labelPadding":5,"offset":-3,"tickSize":{"condition":{"test":"datum.value==1e-4||datum.value==1e-5","value":7},"value":5},"title":"Rᵢₐ(yr ⁻¹Mpc ⁻³)","titleFontSize":20,"titlePadding":0}},"color":{"field":"m","type":"nominal","scale":{"domain":["G05Close"],"range":["#22ee11"]},"legend":{"legendX":10,"legendY":141,"encoding":{"symbols":{"strokeWidth":{"value":1.5}}}}}}}
]}
]},
{"spacing":17.5,"bounds":"flush","resolve":{"scale":{"color":"independent"},"legend":{"color":"independent"}},"hconcat":[
{"width":244.5,"height":186,"resolve":{"axis":{"x":"independent","y":"independent"}},"layer":[
{"data":{"name":"bands"},"transform":[{"filter":"datum.m=='T08'"}],"mark":{"type":"area","clip":true,"interpolate":"monotone","color":"#888888","opacity":0.13},"encoding":{"x":{"field":"z","type":"quantitative","scale":{"domain":[0,2.5],"nice":false,"zero":false},"axis":{"orient":"bottom","values":[0,1,2],"labelPadding":5,"title":"z","titlePadding":-5,"offset":-3,"tickSize":6}},"y":{"field":"lo","type":"quantitative","scale":{"type":"log","domain":[4.06e-6,1.98e-4],"nice":false},"axis":{"orient":"left","values":[1e-4,9e-5,8e-5,7e-5,6e-5,5e-5,4e-5,3e-5,2e-5,1e-5,9e-6,8e-6,7e-6,6e-6,5e-6],"labelExpr":"datum.value==1e-4?'10⁻⁴':datum.value==1e-5?'10⁻⁵':''","labelFontSize":22,"labelPadding":5,"offset":-3,"tickSize":{"condition":{"test":"datum.value==1e-4||datum.value==1e-5","value":7},"value":5},"title":"Rᵢₐ(yr ⁻¹Mpc ⁻³)","titleFontSize":20,"titlePadding":3}},"y2":{"field":"hi"}}},
{"data":{"name":"obs"},"transform":[{"filter":"!datum.solid"}],"mark":{"type":"point","clip":true,"filled":false},"encoding":{"x":{"field":"z","type":"quantitative","axis":null,"scale":{"domain":[0,2.5],"nice":false,"zero":false}},"y":{"field":"r","type":"quantitative","axis":null,"scale":{"type":"log","domain":[4.06e-6,1.98e-4],"nice":false}},"shape":{"field":"marker","type":"nominal","legend":null},"stroke":{"field":"group","type":"nominal","legend":null}}},
{"data":{"name":"obs"},"transform":[{"filter":"datum.solid"}],"mark":{"type":"point","clip":true,"filled":true,"opacity":1},"encoding":{"x":{"field":"z","type":"quantitative","axis":null,"scale":{"domain":[0,2.5],"nice":false,"zero":false}},"y":{"field":"r","type":"quantitative","axis":null,"scale":{"type":"log","domain":[4.06e-6,1.98e-4],"nice":false}},"shape":{"field":"marker","type":"nominal","legend":null},"fill":{"field":"group","type":"nominal","legend":null}}},
{"data":{"name":"curves"},"transform":[{"filter":"datum.m=='T08'"}],"mark":{"type":"line","clip":true,"interpolate":"monotone","strokeWidth":1.5},"encoding":{"x":{"field":"z","type":"quantitative","scale":{"domain":[0,2.5],"nice":false,"zero":false},"axis":{"orient":"top","values":[0,1,2],"labels":false,"title":null,"offset":-3,"tickSize":6}},"y":{"field":"r","type":"quantitative","scale":{"type":"log","domain":[4.06e-6,1.98e-4],"nice":false},"axis":{"orient":"right","values":[1e-4,9e-5,8e-5,7e-5,6e-5,5e-5,4e-5,3e-5,2e-5,1e-5,9e-6,8e-6,7e-6,6e-6,5e-6],"labels":false,"title":null,"offset":-3,"tickSize":{"condition":{"test":"datum.value==1e-4||datum.value==1e-5","value":7},"value":5}}},"color":{"field":"m","type":"nominal","scale":{"domain":["T08"],"range":["#ff1a1a"]},"legend":{"legendX":10,"legendY":141,"encoding":{"symbols":{"strokeWidth":{"value":1.5}}}}}}}
]},
{"width":244.5,"height":186,"resolve":{"axis":{"x":"independent","y":"independent"}},"layer":[
{"data":{"name":"bands"},"transform":[{"filter":"datum.m=='P08'"}],"mark":{"type":"area","clip":true,"interpolate":"monotone","color":"#888888","opacity":0.13},"encoding":{"x":{"field":"z","type":"quantitative","scale":{"domain":[0,2.5],"nice":false,"zero":false},"axis":{"orient":"bottom","values":[0,1,2],"labelPadding":5,"title":"z","titlePadding":-5,"offset":-3,"tickSize":6}},"y":{"field":"lo","type":"quantitative","scale":{"type":"log","domain":[4.06e-6,1.98e-4],"nice":false},"axis":{"orient":"left","values":[1e-4,9e-5,8e-5,7e-5,6e-5,5e-5,4e-5,3e-5,2e-5,1e-5,9e-6,8e-6,7e-6,6e-6,5e-6],"labels":false,"title":null,"offset":-3,"tickSize":{"condition":{"test":"datum.value==1e-4||datum.value==1e-5","value":7},"value":5}}},"y2":{"field":"hi"}}},
{"data":{"name":"obs"},"transform":[{"filter":"!datum.solid"}],"mark":{"type":"point","clip":true,"filled":false},"encoding":{"x":{"field":"z","type":"quantitative","axis":null,"scale":{"domain":[0,2.5],"nice":false,"zero":false}},"y":{"field":"r","type":"quantitative","axis":null,"scale":{"type":"log","domain":[4.06e-6,1.98e-4],"nice":false}},"shape":{"field":"marker","type":"nominal","legend":null},"stroke":{"field":"group","type":"nominal","legend":null}}},
{"data":{"name":"obs"},"transform":[{"filter":"datum.solid"}],"mark":{"type":"point","clip":true,"filled":true,"opacity":1},"encoding":{"x":{"field":"z","type":"quantitative","axis":null,"scale":{"domain":[0,2.5],"nice":false,"zero":false}},"y":{"field":"r","type":"quantitative","axis":null,"scale":{"type":"log","domain":[4.06e-6,1.98e-4],"nice":false}},"shape":{"field":"marker","type":"nominal","legend":null},"fill":{"field":"group","type":"nominal","legend":null}}},
{"data":{"name":"curves"},"transform":[{"filter":"datum.m=='P08'"}],"mark":{"type":"line","clip":true,"interpolate":"monotone","strokeWidth":1.4,"strokeDash":[5,2]},"encoding":{"x":{"field":"z","type":"quantitative","scale":{"domain":[0,2.5],"nice":false,"zero":false},"axis":{"orient":"top","values":[0,1,2],"labels":false,"title":null,"offset":-3,"tickSize":6}},"y":{"field":"r","type":"quantitative","scale":{"type":"log","domain":[4.06e-6,1.98e-4],"nice":false},"axis":{"orient":"right","values":[1e-4,9e-5,8e-5,7e-5,6e-5,5e-5,4e-5,3e-5,2e-5,1e-5,9e-6,8e-6,7e-6,6e-6,5e-6],"labels":false,"title":null,"offset":-3,"tickSize":{"condition":{"test":"datum.value==1e-4||datum.value==1e-5","value":7},"value":5}}},"color":{"field":"m","type":"nominal","scale":{"domain":["P08"],"range":["#ff1a1a"]},"legend":{"legendX":10,"legendY":141,"encoding":{"symbols":{"strokeWidth":{"value":1.4},"strokeDash":{"value":[5,2]}}}}}}}
]},
{"width":244.5,"height":186,"resolve":{"axis":{"x":"independent","y":"independent"}},"layer":[
{"data":{"name":"bands"},"transform":[{"filter":"datum.m=='S05'"}],"mark":{"type":"area","clip":true,"interpolate":"monotone","color":"#888888","opacity":0.13},"encoding":{"x":{"field":"z","type":"quantitative","scale":{"domain":[0,2.5],"nice":false,"zero":false},"axis":{"orient":"bottom","values":[0,1,2],"labelPadding":5,"title":"z","titlePadding":-5,"offset":-3,"tickSize":6}},"y":{"field":"lo","type":"quantitative","scale":{"type":"log","domain":[4.06e-6,1.98e-4],"nice":false},"axis":{"orient":"left","values":[1e-4,9e-5,8e-5,7e-5,6e-5,5e-5,4e-5,3e-5,2e-5,1e-5,9e-6,8e-6,7e-6,6e-6,5e-6],"labels":false,"title":null,"offset":-3,"tickSize":{"condition":{"test":"datum.value==1e-4||datum.value==1e-5","value":7},"value":5}}},"y2":{"field":"hi"}}},
{"data":{"name":"obs"},"transform":[{"filter":"!datum.solid"}],"mark":{"type":"point","clip":true,"filled":false},"encoding":{"x":{"field":"z","type":"quantitative","axis":null,"scale":{"domain":[0,2.5],"nice":false,"zero":false}},"y":{"field":"r","type":"quantitative","axis":null,"scale":{"type":"log","domain":[4.06e-6,1.98e-4],"nice":false}},"shape":{"field":"marker","type":"nominal","legend":null},"stroke":{"field":"group","type":"nominal","legend":null}}},
{"data":{"name":"obs"},"transform":[{"filter":"datum.solid"}],"mark":{"type":"point","clip":true,"filled":true,"opacity":1},"encoding":{"x":{"field":"z","type":"quantitative","axis":null,"scale":{"domain":[0,2.5],"nice":false,"zero":false}},"y":{"field":"r","type":"quantitative","axis":null,"scale":{"type":"log","domain":[4.06e-6,1.98e-4],"nice":false}},"shape":{"field":"marker","type":"nominal","legend":null},"fill":{"field":"group","type":"nominal","legend":null}}},
{"data":{"name":"curves"},"transform":[{"filter":"datum.m=='S05'"}],"mark":{"type":"line","clip":true,"interpolate":"monotone","strokeWidth":3,"strokeDash":[3,6]},"encoding":{"x":{"field":"z","type":"quantitative","scale":{"domain":[0,2.5],"nice":false,"zero":false},"axis":{"orient":"top","values":[0,1,2],"labels":false,"title":null,"offset":-3,"tickSize":6}},"y":{"field":"r","type":"quantitative","scale":{"type":"log","domain":[4.06e-6,1.98e-4],"nice":false},"axis":{"orient":"right","values":[1e-4,9e-5,8e-5,7e-5,6e-5,5e-5,4e-5,3e-5,2e-5,1e-5,9e-6,8e-6,7e-6,6e-6,5e-6],"labels":false,"title":null,"offset":-3,"tickSize":{"condition":{"test":"datum.value==1e-4||datum.value==1e-5","value":7},"value":5}}},"color":{"field":"m","type":"nominal","scale":{"domain":["S05"],"range":["#ff0000"]},"legend":{"legendX":10,"legendY":141,"encoding":{"symbols":{"strokeWidth":{"value":3},"strokeDash":{"value":[3,6]}}}}}}}
]},
{"width":244.5,"height":186,"resolve":{"axis":{"x":"independent","y":"independent"}},"layer":[
{"data":{"name":"bands"},"transform":[{"filter":"datum.m=='Mix'"}],"mark":{"type":"area","clip":true,"interpolate":"monotone","color":"#888888","opacity":0.13},"encoding":{"x":{"field":"z","type":"quantitative","scale":{"domain":[0,2.5],"nice":false,"zero":false},"axis":{"orient":"bottom","values":[0,1,2],"labelPadding":5,"title":"z","titlePadding":-5,"offset":-3,"tickSize":6}},"y":{"field":"lo","type":"quantitative","scale":{"type":"log","domain":[4.06e-6,1.98e-4],"nice":false},"axis":{"orient":"left","values":[1e-4,9e-5,8e-5,7e-5,6e-5,5e-5,4e-5,3e-5,2e-5,1e-5,9e-6,8e-6,7e-6,6e-6,5e-6],"labels":false,"title":null,"offset":-3,"tickSize":{"condition":{"test":"datum.value==1e-4||datum.value==1e-5","value":7},"value":5}}},"y2":{"field":"hi"}}},
{"data":{"name":"obs"},"transform":[{"filter":"!datum.solid"}],"mark":{"type":"point","clip":true,"filled":false},"encoding":{"x":{"field":"z","type":"quantitative","axis":null,"scale":{"domain":[0,2.5],"nice":false,"zero":false}},"y":{"field":"r","type":"quantitative","axis":null,"scale":{"type":"log","domain":[4.06e-6,1.98e-4],"nice":false}},"shape":{"field":"marker","type":"nominal","legend":null},"stroke":{"field":"group","type":"nominal","legend":null}}},
{"data":{"name":"obs"},"transform":[{"filter":"datum.solid"}],"mark":{"type":"point","clip":true,"filled":true,"opacity":1},"encoding":{"x":{"field":"z","type":"quantitative","axis":null,"scale":{"domain":[0,2.5],"nice":false,"zero":false}},"y":{"field":"r","type":"quantitative","axis":null,"scale":{"type":"log","domain":[4.06e-6,1.98e-4],"nice":false}},"shape":{"field":"marker","type":"nominal","legend":null},"fill":{"field":"group","type":"nominal","legend":null}}},
{"data":{"name":"curves"},"transform":[{"filter":"datum.m=='Mix'"}],"mark":{"type":"line","clip":true,"interpolate":"monotone","strokeWidth":1.5,"strokeDash":[8,3,2,3]},"encoding":{"x":{"field":"z","type":"quantitative","scale":{"domain":[0,2.5],"nice":false,"zero":false},"axis":{"orient":"top","values":[0,1,2],"labels":false,"title":null,"offset":-3,"tickSize":6}},"y":{"field":"r","type":"quantitative","scale":{"type":"log","domain":[4.06e-6,1.98e-4],"nice":false},"axis":{"orient":"right","values":[1e-4,9e-5,8e-5,7e-5,6e-5,5e-5,4e-5,3e-5,2e-5,1e-5,9e-6,8e-6,7e-6,6e-6,5e-6],"labelExpr":"datum.value==1e-4?'10⁻⁴':datum.value==1e-5?'10⁻⁵':''","labelFontSize":22,"labelPadding":5,"offset":-3,"tickSize":{"condition":{"test":"datum.value==1e-4||datum.value==1e-5","value":7},"value":5},"title":"Rᵢₐ(yr ⁻¹Mpc ⁻³)","titleFontSize":20,"titlePadding":0}},"color":{"field":"m","type":"nominal","scale":{"domain":["Mix"],"range":["#000000"]},"legend":{"legendX":10,"legendY":141,"encoding":{"symbols":{"strokeWidth":{"value":1.5},"strokeDash":{"value":[8,3,2,3]}}}}}}}
]}
]}
]
}
